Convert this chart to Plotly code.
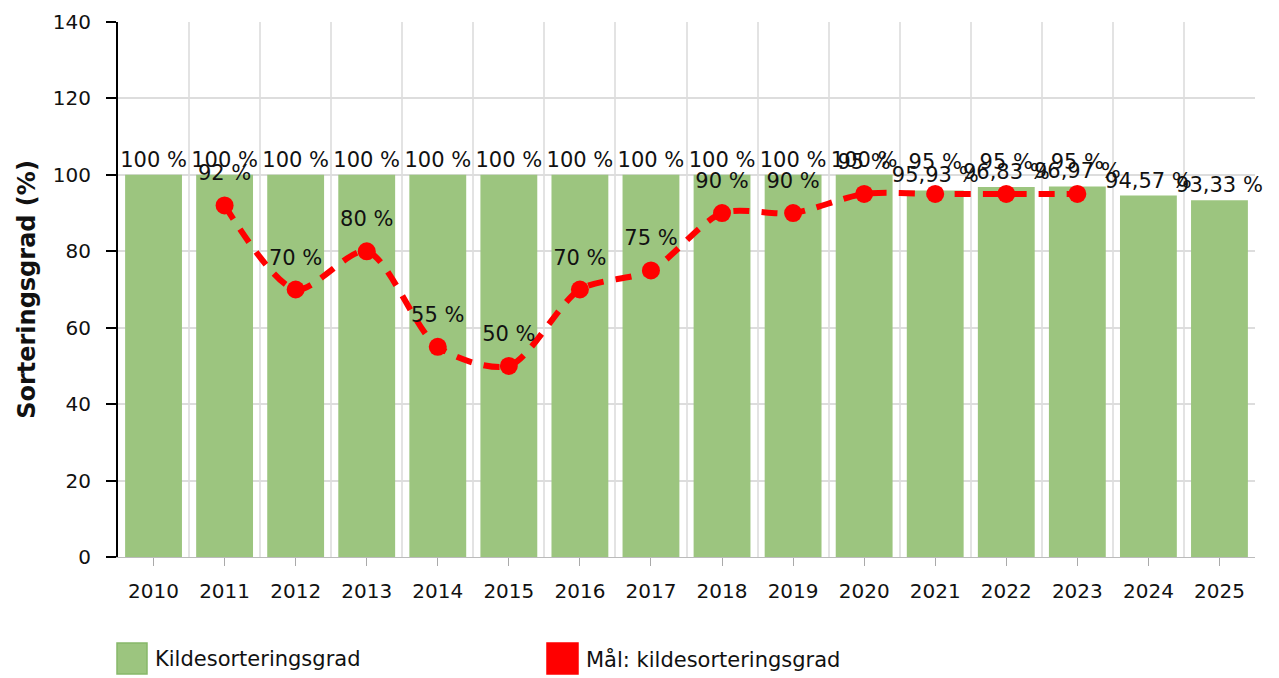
import plotly.graph_objects as go

years = [2010, 2011, 2012, 2013, 2014, 2015, 2016, 2017, 2018, 2019, 2020, 2021, 2022, 2023, 2024, 2025]
bar_values = [100, 100, 100, 100, 100, 100, 100, 100, 100, 100, 100, 95.93, 96.83, 96.97, 94.57, 93.33]
bar_labels = ["100 %"] * 11 + ["95,93 %", "96,83 %", "96,97 %", "94,57 %", "93,33 %"]

goal_years = [2011, 2012, 2013, 2014, 2015, 2016, 2017, 2018, 2019, 2020, 2021, 2022, 2023]
goal_values = [92, 70, 80, 55, 50, 70, 75, 90, 90, 95, 95, 95, 95]
goal_labels = [f"{v} %" for v in goal_values]

series_names = ["Kildesorteringsgrad", "Mål: kildesorteringsgrad"]
bar_color = "#9cc57f"
goal_color = "#ff0000"

font_family = "DejaVu Sans, Verdana, sans-serif"
FS = 21

W, H = 1279, 678
OFF = 8  # default page body margin
# plot area in page pixels: x 118..1255, y 22..557
L, T = 118 - OFF, 22 - OFF
R = W - (1255 - OFF)
B = H - (557 - OFF)
PW, PH = W - L - R, H - T - B


def px(x):
    return (x - OFF - L) / PW


def py(y):
    return (H - B - (y - OFF)) / PH


fig = go.Figure()
fig.add_trace(go.Bar(
    x=years, y=bar_values, name=series_names[0],
    marker=dict(color=bar_color, line=dict(width=0)),
    width=0.8, text=bar_labels, textposition="outside", constraintext="none",
    textfont=dict(size=FS, color="#111"), cliponaxis=False,
))
fig.add_trace(go.Scatter(
    x=goal_years, y=goal_values, name=series_names[1],
    mode="lines+markers",
    line=dict(color=goal_color, width=6, dash="16px,12px", shape="spline", smoothing=0.8),
    marker=dict(color=goal_color, size=18),
    cliponaxis=False,
))
# labels of the goal line, with a little more room above the markers
fig.add_trace(go.Scatter(
    x=goal_years, y=goal_values, mode="markers+text", showlegend=False,
    marker=dict(size=30, opacity=0),
    text=goal_labels, textposition="top center",
    textfont=dict(size=FS, color="#111"), cliponaxis=False, hoverinfo="skip",
))

# custom legend (large squares like the reference)
legend_items = [(117, 147, bar_color, "#86b86a"), (547, 578, goal_color, goal_color)]
for (x0, x1, fc, lc), name in zip(legend_items, series_names):
    fig.add_shape(type="rect", xref="paper", yref="paper",
                  x0=px(x0), x1=px(x1), y0=py(674), y1=py(643),
                  fillcolor=fc, line=dict(color=lc, width=1.5))
    fig.add_annotation(xref="paper", yref="paper", x=px(x1 + 6), y=py(659),
                       xanchor="left", yanchor="middle", text=name, showarrow=False,
                       font=dict(size=FS, color="#111"))

fig.update_layout(
    width=W, height=H,
    margin=dict(l=L, r=R, t=T, b=B),
    plot_bgcolor="white", paper_bgcolor="white",
    font=dict(family=font_family, size=FS, color="#111"),
    showlegend=False,
    xaxis=dict(
        range=[2009.5, 2025.5], tickmode="array", tickvals=years,
        ticktext=[str(y) for y in years],
        showgrid=False, ticks="outside", ticklen=8, tickcolor="#aaaaaa",
        showline=True, linecolor="#bbbbbb", linewidth=1,
        tickfont=dict(size=FS - 1), ticklabelstandoff=8,
        minor=dict(tick0=2009.5, dtick=1, showgrid=True, gridcolor="#e3e3e3", gridwidth=2, ticks=""),
        zeroline=False, automargin=False,
    ),
    yaxis=dict(
        range=[0, 140], tickvals=[0, 20, 40, 60, 80, 100, 120, 140],
        showgrid=True, gridcolor="#dddddd", gridwidth=2,
        ticks="outside", ticklen=10, tickcolor="#000", tickwidth=2,
        showline=True, linecolor="#000", linewidth=2,
        tickfont=dict(size=FS - 1), ticklabelstandoff=11,
        title=dict(text="<b>Sorteringsgrad (%)</b>", font=dict(size=24), standoff=10),
        zeroline=False, automargin=False,
    ),
)

fig.write_html("out.html")
